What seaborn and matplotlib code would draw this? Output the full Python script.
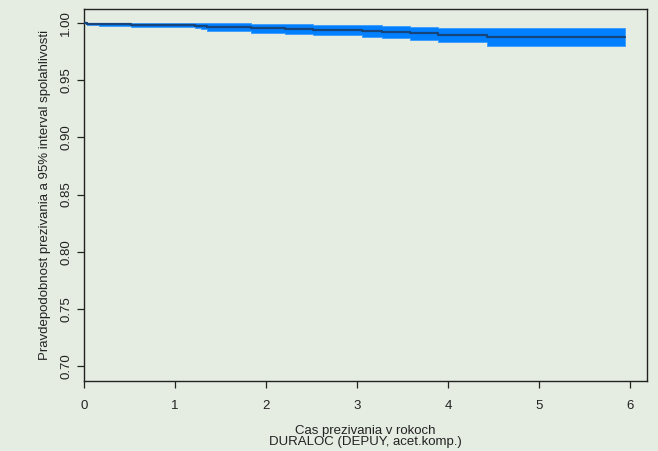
import matplotlib
matplotlib.use("Agg")
import matplotlib.pyplot as plt
import seaborn as sns
import pandas as pd

# Kaplan-Meier estimate
times = [0, 0.03, 0.16, 0.52, 1.22, 1.29, 1.35, 1.84, 2.21, 2.52, 3.05, 3.27, 3.58, 3.89, 4.43, 5.95]
surv = [1.0, 0.9991, 0.9986, 0.9980, 0.9975, 0.9968, 0.9962, 0.9951, 0.9945, 0.9939,
        0.9928, 0.9919, 0.9907, 0.9895, 0.9878, 0.9878]
lower = [1.0, 0.9982, 0.9971, 0.9960, 0.9955, 0.9947, 0.9930, 0.9913, 0.9901, 0.9893,
         0.9878, 0.9866, 0.9849, 0.9829, 0.9797, 0.9797]
upper = [1.0, 1.0, 1.0, 1.0, 1.0, 0.9998, 0.9995, 0.9985, 0.9985, 0.9980,
         0.9980, 0.9971, 0.9965, 0.9951, 0.9951, 0.9951]

x_ticks = [0, 1, 2, 3, 4, 5, 6]
y_ticks = [0.70, 0.75, 0.80, 0.85, 0.90, 0.95, 1.00]
y_tick_labels = ["0.70", "0.75", "0.80", "0.85", "0.90", "0.95", "1.00"]

x_label = "Cas prezivania v rokoch\nDURALOC (DEPUY, acet.komp.)"
y_label = "Pravdepodobnost prezivania a 95% interval spolahlivosti"

df = pd.DataFrame({"t": times, "s": surv, "lo": lower, "hi": upper})

BG = "#E5EDE2"
sns.set_style("white")
plt.rcParams["font.family"] = ["Liberation Sans", "DejaVu Sans"]

fig = plt.figure(figsize=(6.58, 4.51), dpi=100, facecolor=BG)
ax = fig.add_axes([83.5 / 658, 1 - 381 / 451, (647 - 83.5) / 658, (381 - 9) / 451])
ax.set_facecolor(BG)

ax.fill_between(df["t"], df["lo"], df["hi"], step="post", color="#0080FF",
                edgecolor="#3A9BFF", linewidth=0.6, zorder=2)
sns.lineplot(data=df, x="t", y="s", drawstyle="steps-post", color="#15457A",
             linewidth=1.6, ax=ax, zorder=3, estimator=None)

ax.set_xlim(-0.005, 6.187)
ax.set_ylim(0.6872, 1.012)
ax.set_xticks(x_ticks)
ax.set_xticklabels([str(v) for v in x_ticks])
ax.set_yticks(y_ticks)
ax.set_yticklabels(y_tick_labels, rotation=90, va="center")

for sp in ax.spines.values():
    sp.set_visible(True)
    sp.set_color("#222222")
    sp.set_linewidth(1.0)

ax.tick_params(axis="both", which="major", bottom=True, left=True, top=False, right=False,
               direction="out", length=5, width=0.9, color="#222222",
               labelsize=9.5, labelcolor="#222222")
ax.tick_params(axis="y", pad=3)
ax.tick_params(axis="x", pad=9)

ax.set_xlabel(x_label, fontsize=9.5, color="#222222", labelpad=9, linespacing=0.92)
ax.set_ylabel(y_label, fontsize=9.5, color="#222222", labelpad=7)

fig.savefig("out.png", dpi=100, facecolor=BG)
